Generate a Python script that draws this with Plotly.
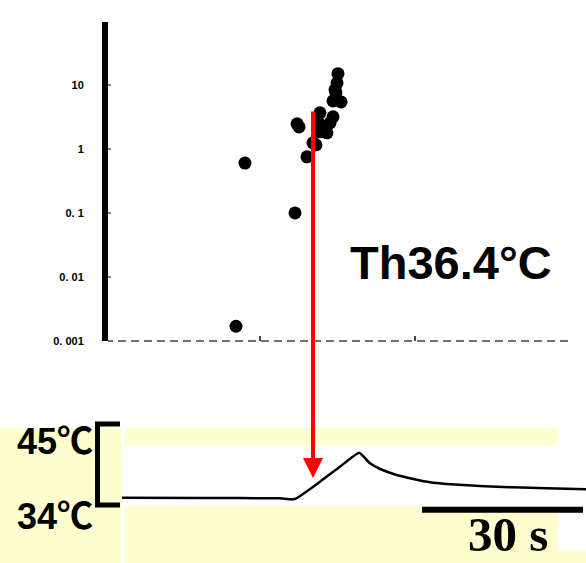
import plotly.graph_objects as go

# ---------------- data ----------------
# top panel: scatter of responses (log scale)
scatter_x = [0.845, 0.903, 1.226, 1.239, 1.252, 1.303, 1.342, 1.361, 1.374, 1.387,
             1.387, 1.406, 1.432, 1.452, 1.471, 1.471, 1.523, 1.490, 1.484, 1.497, 1.503]
scatter_y = [0.0017, 0.60, 0.10, 2.46, 2.2, 0.75, 1.24, 1.15, 2.64, 3.65,
             1.84, 2.2, 1.78, 2.55, 3.16, 5.6, 5.4, 7.5, 8.4, 10.7, 14.9]
y_tickvals = [0.001, 0.01, 0.1, 1, 10]
y_ticktext = ["0. 001", "0. 01", "0. 1", "1", "10"]
x_tickvals = [1, 2, 3]

# bottom panel: temperature trace (time s, temperature degC)
trace_t = [0, 14.5, 29.4, 32.2, 36.9, 40.6, 44.2, 46.2, 48.1, 51.2, 54.3, 57.4,
           60.5, 66.7, 72.9, 79.1, 86.5]
trace_T = [34.99, 34.95, 34.91, 34.81, 37.16, 39.20, 41.10, 39.66, 38.89, 38.07,
           37.53, 37.08, 36.85, 36.58, 36.40, 36.27, 36.13]
bracket_T = [34, 45]
bracket_labels = ["34℃", "45℃"]
scalebar_t = [55.9, 85.9]
scalebar_label = "30 s"
threshold_label = "Th36.4°C"

W, H = 586, 563


def px(x):
    return x / W


def py(y):
    return 1 - y / H


# bottom axis mapping: T=34 at y=505px, T=45 at y=424px
t_scale = 5.367  # px per s
T_scale = 81 / 11  # px per degC
y2_top_px = 420
y2_range = [34 - (563 - 505) / T_scale, 34 + (505 - y2_top_px) / T_scale]
x2_range = [0, (W - 122) / t_scale]

fig = go.Figure()

fig.add_trace(go.Scatter(
    x=scatter_x, y=scatter_y, mode="markers",
    marker=dict(size=13, color="black"),
    xaxis="x", yaxis="y", showlegend=False, hoverinfo="skip"))

fig.add_trace(go.Scatter(
    x=trace_t, y=trace_T, mode="lines",
    line=dict(color="black", width=2.5, shape="spline", smoothing=0.4),
    xaxis="x2", yaxis="y2", showlegend=False, hoverinfo="skip"))

YEL = "#FEFECF"
shapes = []


def rect(x0, y0, x1, y1, color=YEL):
    shapes.append(dict(type="rect", xref="paper", yref="paper",
                       x0=px(x0), x1=px(x1), y0=py(y1), y1=py(y0),
                       fillcolor=color, line=dict(width=0), layer="below"))


# yellow backgrounds of the lower panel
rect(0, 428, 122, 563)
rect(125, 428, 558, 445)
rect(125, 506, 558, 551)
rect(125, 551, 586, 563)

# dashed baseline of top plot
shapes.append(dict(type="line", xref="x", yref="y domain", x0=0.0, x1=3.0, y0=0, y1=0,
                   line=dict(color="#444444", width=1.5, dash="8px,5px")))

# bracket (temperature scale)
bx0, bx1 = px(97.5), px(120)
ytop = py(505 - (bracket_T[1] - bracket_T[0]) * T_scale)
shapes.append(dict(type="path", xref="paper", yref="paper",
                   path=f"M {bx1},{ytop} L {bx0},{ytop} L {bx0},{py(505)} L {bx1},{py(505)}",
                   line=dict(color="black", width=5)))

# 30 s scale bar
shapes.append(dict(type="line", xref="x2", yref="y2",
                   x0=scalebar_t[0], x1=scalebar_t[1], y0=33.36, y1=33.36,
                   line=dict(color="black", width=6)))

annotations = []
# red arrow
annotations.append(dict(x=px(313), y=py(478), xref="paper", yref="paper",
                        ax=0, ay=-(478 - 110), axref="pixel", ayref="pixel",
                        showarrow=True, arrowhead=2, arrowsize=1.0, arrowwidth=4,
                        arrowcolor="#FF0000", text=""))

annotations.append(dict(x=px(451), y=py(262), xref="paper", yref="paper",
                        text=threshold_label, showarrow=False,
                        font=dict(family="Liberation Sans, Arial", size=47, color="black", weight="bold"),
                        xanchor="center", yanchor="middle"))

for T, lab in zip(bracket_T, bracket_labels):
    ypx = 505 - (T - 34) * T_scale
    annotations.append(dict(x=px(55), y=py(ypx + (11 if T == 34 else 17)), xref="paper", yref="paper",
                            text=lab, showarrow=False,
                            font=dict(family="Liberation Sans, Noto Sans CJK JP", size=36,
                                      color="black", weight="bold"),
                            xanchor="center", yanchor="middle"))

annotations.append(dict(x=px(508), y=py(534), xref="paper", yref="paper",
                        text=scalebar_label, showarrow=False,
                        font=dict(family="Liberation Serif, Times New Roman", size=49,
                                  color="black", weight="bold"),
                        xanchor="center", yanchor="middle"))

fig.update_layout(
    width=W, height=H, margin=dict(l=0, r=0, t=0, b=0, pad=0, autoexpand=False),
    paper_bgcolor="white", plot_bgcolor="rgba(0,0,0,0)",
    shapes=shapes, annotations=annotations,
    xaxis=dict(domain=[px(108), px(570)], range=[3 / 155, 3.0], showgrid=False,
               zeroline=False, showline=False, tickvals=x_tickvals, ticks="inside",
               ticklen=5, tickwidth=1.5, tickcolor="#444444", showticklabels=False,
               automargin=False),
    yaxis=dict(domain=[py(341), py(22)], type="log", range=[-3, 1.98], showgrid=False,
               zeroline=False, showline=True, linewidth=6, linecolor="black",
               tickvals=y_tickvals, ticktext=y_ticktext, ticks="inside", ticklen=3,
               tickwidth=1.5, tickcolor="#888888", ticklabelstandoff=16, automargin=False,
               tickfont=dict(family="Liberation Sans, Arial", size=11, color="black", weight="bold")),
    xaxis2=dict(domain=[px(122), 1.0], range=x2_range, visible=False, anchor="y2",
                automargin=False),
    yaxis2=dict(domain=[0, py(y2_top_px)], range=y2_range, visible=False, anchor="x2",
                automargin=False),
)

fig.write_html("out.html")
